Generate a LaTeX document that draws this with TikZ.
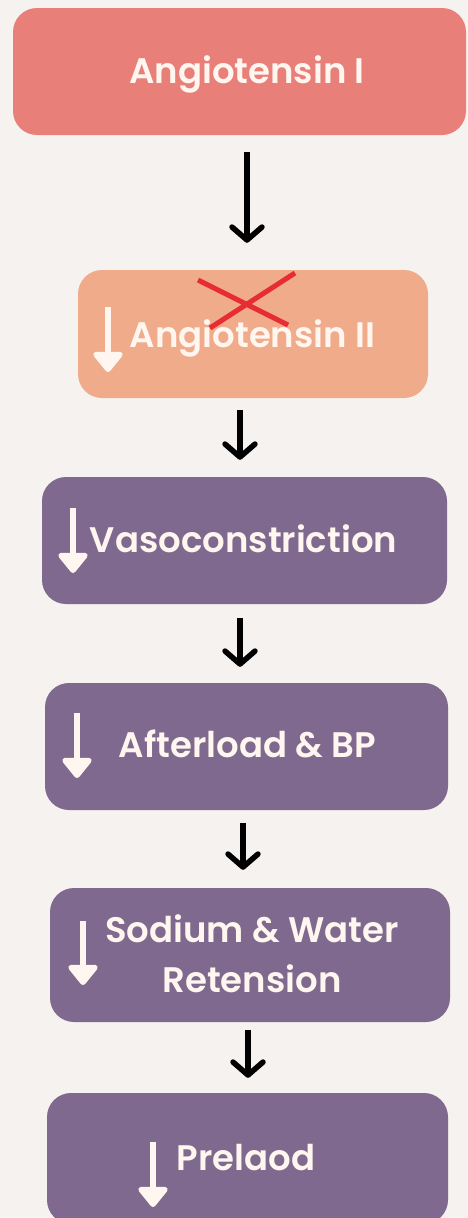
\documentclass[tikz,border=0pt]{standalone}
\usepackage{fontspec}
\setmainfont{Poppins}[BoldFont={Poppins SemiBold}]
\usetikzlibrary{arrows.meta}

\definecolor{bgcol}{RGB}{245,242,240}
\definecolor{angone}{RGB}{232,128,121}
\definecolor{angtwo}{RGB}{240,171,139}
\definecolor{plum}{RGB}{128,105,142}
\definecolor{cream}{RGB}{255,246,240}
\definecolor{crossred}{RGB}{232,44,52}

\begin{document}
\begin{tikzpicture}[x=1pt,y=-1pt,
	box/.style={rounded corners=24pt, inner sep=0pt},
	txt/.style={text=cream, anchor=base, align=center, font=\bfseries\fontsize{35.5}{50}\selectfont},
	flow/.style={-{Straight Barb[length=13pt,width=30pt,round]}, line width=5.5pt},
	down/.style={-{Triangle[length=22pt,width=34pt,round]}, line width=6.5pt, cream}]
	\useasboundingbox (0,0) rectangle (468,1218);
	\fill[bgcol] (0,0) rectangle (468,1218);
	\clip (0,0) rectangle (468,1218);

	\node [box, fill=angone, minimum width=453pt, minimum height=127pt] (ang1) at (239.5,71.5) {};
	\node [box, fill=angtwo, minimum width=350pt, minimum height=128pt] (ang2) at (253,334) {};
	\node [box, fill=plum, minimum width=405pt, minimum height=127pt] (vaso) at (244.5,540.5) {};
	\node [box, fill=plum, minimum width=403pt, minimum height=127pt] (after) at (246.5,746.5) {};
	\node [box, fill=plum, minimum width=400pt, minimum height=134pt] (sod) at (250,955) {};
	\node [box, fill=plum, minimum width=401pt, minimum height=131pt] (pre) at (247.5,1158.5) {};

	\node [txt] (t1) at (247,83) {Angiotensin I};
	\node [txt] (t2) at (252.5,347) {Angiotensin II};
	\node [txt] (t3) at (243.5,552) {Vasoconstriction};
	\node [txt] (t4) at (247.5,757) {Afterload \& BP};
	\node [txt] (t5) at (252,992) {Sodium \& Water\\Retension};
	\node [txt] (t6) at (246,1170) {Prelaod};

	% white down arrows
	\draw[down] (108,307) -- (108,372);
	\draw[down] (73,508) -- (73,573);
	\draw[down] (77,713) -- (77,778);
	\draw[down] (83,921) -- (83,985);
	\draw[down] (153,1142) -- (153,1207);

	% the cross
	\draw[crossred, line width=5pt] (198,280) -- (288,325) (295,273) -- (210,328);

	\draw[flow] ([xshift=7.5pt,yshift=-17pt]ang1.south) -- ([xshift=-6pt,yshift=27pt]ang2.north);
	\draw[flow] ([xshift=-13pt,yshift=-12pt]ang2.south) -- ([xshift=-4.5pt,yshift=17pt]vaso.north);
	\draw[flow] ([xshift=-4.5pt,yshift=-14pt]vaso.south) -- ([xshift=-6.5pt,yshift=16pt]after.north);
	\draw[flow] ([xshift=-3.5pt,yshift=-13pt]after.south) -- ([xshift=-7pt,yshift=18pt]sod.north);
	\draw[flow] ([xshift=-2pt,yshift=-8pt]sod.south) -- ([xshift=0.5pt,yshift=15pt]pre.north);
\end{tikzpicture}
\end{document}
